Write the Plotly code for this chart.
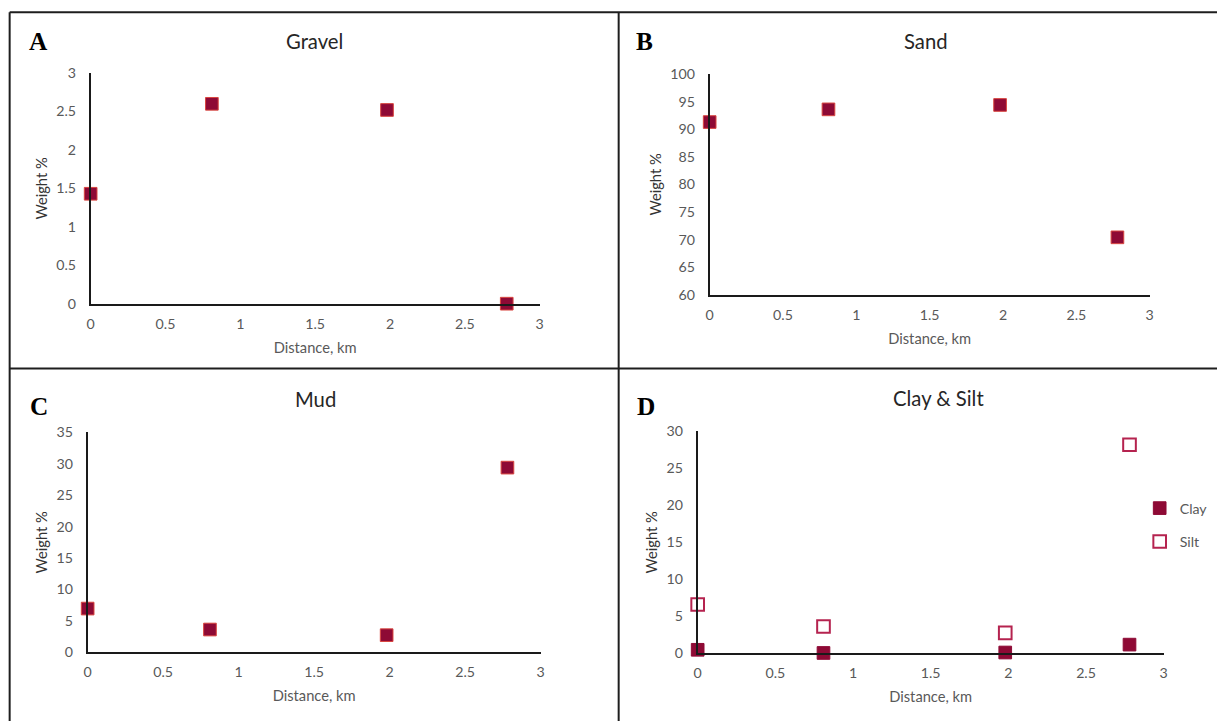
import plotly.graph_objects as go

# ---------------- data ----------------
distance_km = [0.0, 0.81, 1.98, 2.78]
gravel_pct = [1.43, 2.60, 2.52, 0.0]
sand_pct = [91.3, 93.6, 94.4, 70.4]
mud_pct = [6.94, 3.6, 2.7, 29.4]
clay_pct = [0.45, 0.02, 0.08, 1.15]
silt_pct = [6.58, 3.6, 2.75, 28.2]

x_ticks = [0, 0.5, 1, 1.5, 2, 2.5, 3]
x_tick_text = ["0", "0.5", "1", "1.5", "2", "2.5", "3"]
gravel_ticks = [0, 0.5, 1, 1.5, 2, 2.5, 3]
sand_ticks = [60, 65, 70, 75, 80, 85, 90, 95, 100]
mud_ticks = [0, 5, 10, 15, 20, 25, 30, 35]
clay_silt_ticks = [0, 5, 10, 15, 20, 25, 30]

panel_titles = ["Gravel", "Sand", "Mud", "Clay &amp; Silt"]
panel_letters = ["A", "B", "C", "D"]

# ---------------- layout helpers ----------------
PAGE_MARGIN = 8
SX, SY = 1217 / 1233, 721 / 737
W, H = 1233 - PAGE_MARGIN, 737 - PAGE_MARGIN
FS = 1 / SX  # font / size compensation
X_SHIFT, X_STRETCH = 4.6, 1.0065  # empirical horizontal correction


def px_x(p):
    p = (p + X_SHIFT) / X_STRETCH
    return (p / SX - PAGE_MARGIN) / W


def px_y(p):
    return 1 - (p / SY - PAGE_MARGIN) / H


FONT = "Lato, 'Open Sans', sans-serif"
TICK_COLOR = "#595959"
FILL = "#8e0a35"
EDGE = "#d9453f"

fig = go.Figure()

# panel plot areas (target pixel boxes: left, right, top, bottom)
boxes = {
    "1": (90, 539, 72, 303),
    "2": (709, 1149, 73, 294),
    "3": (87, 540, 432, 652),
    "4": (697, 1163, 431, 653),
}

series = {
    "1": [("Gravel", gravel_pct, "square")],
    "2": [("Sand", sand_pct, "square")],
    "3": [("Mud", mud_pct, "square")],
    "4": [("Clay", clay_pct, "square"), ("Silt", silt_pct, "square-open")],
}

y_ranges = {"1": [0, 3], "2": [60, 100], "3": [0, 35], "4": [0, 30]}
y_ticks = {"1": gravel_ticks, "2": sand_ticks, "3": mud_ticks, "4": clay_silt_ticks}

for k, box in boxes.items():
    l, r, t, b = box
    xa = "x" if k == "1" else "x" + k
    ya = "y" if k == "1" else "y" + k
    for name, vals, sym in series[k]:
        if sym == "square":
            marker = dict(symbol="square", size=12.5 * FS, color=FILL,
                          line=dict(color=EDGE if k != "4" else FILL, width=1))
        else:
            marker = dict(symbol="square-open", size=12.5 * FS, color="#b5234f",
                          line=dict(width=2))
        fig.add_trace(go.Scatter(
            x=distance_km, y=vals, mode="markers", name=name,
            marker=marker, xaxis=xa, yaxis=ya, cliponaxis=False,
            showlegend=(k == "4"), legendgroup=name,
        ))
    axis_common = dict(showgrid=False, zeroline=False, showline=True,
                       linecolor="#1a1a1a", linewidth=1.7, ticks="",
                       tickfont=dict(family=FONT, size=14 * FS, color=TICK_COLOR),
                       fixedrange=True)
    fig.layout["xaxis" + ("" if k == "1" else k)] = dict(
        domain=[px_x(l), px_x(r)], range=[0, 3], tickvals=x_ticks,
        ticktext=x_tick_text, anchor=ya, ticklabelstandoff=6,
        title=dict(text="Distance, km", standoff=12,
                   font=dict(family=FONT, size=14.5 * FS, color=TICK_COLOR)),
        **axis_common)
    fig.layout["yaxis" + ("" if k == "1" else k)] = dict(
        domain=[px_y(b), px_y(t)], range=y_ranges[k], tickvals=y_ticks[k],
        anchor=xa, ticklabelstandoff=10,
        title=dict(text="Weight %", standoff=5,
                   font=dict(family=FONT, size=14.5 * FS, color="#333333")),
        **axis_common)

# panel titles and letters
title_pos = [(314, 40), (925, 40), (315, 398), (938, 397)]
letter_pos = [(38, 40), (644, 40), (38, 405), (645, 405)]
annotations = []
for text, (x, y) in zip(panel_titles, title_pos):
    annotations.append(dict(text=text, x=px_x(x), y=px_y(y), xref="paper",
                            yref="paper", showarrow=False,
                            xanchor="center", yanchor="middle",
                            font=dict(family=FONT, size=20 * FS, color="#262626")))
for text, (x, y) in zip(panel_letters, letter_pos):
    annotations.append(dict(text="<b>" + text + "</b>", x=px_x(x), y=px_y(y),
                            xref="paper", yref="paper", showarrow=False,
                            xanchor="center", yanchor="middle",
                            font=dict(family="Liberation Serif, serif",
                                      size=25 * FS, color="#000000")))

# frame lines
line_style = dict(color="#1e1e1e", width=2)
shapes = [
    dict(type="line", xref="paper", yref="paper", x0=px_x(9), x1=1.0,
         y0=px_y(11), y1=px_y(11), line=line_style),
    dict(type="line", xref="paper", yref="paper", x0=px_x(9), x1=px_x(9),
         y0=px_y(11), y1=0, line=line_style),
    dict(type="line", xref="paper", yref="paper", x0=px_x(618), x1=px_x(618),
         y0=px_y(11), y1=0, line=line_style),
    dict(type="line", xref="paper", yref="paper", x0=px_x(9), x1=1.0,
         y0=px_y(368), y1=px_y(368), line=line_style),
]

fig.update_layout(
    width=W, height=H, margin=dict(l=0, r=0, t=0, b=0),
    paper_bgcolor="white", plot_bgcolor="white",
    annotations=annotations, shapes=shapes,
    showlegend=True,
    legend=dict(x=px_x(1139), y=px_y(492), xanchor="left", yanchor="top",
                font=dict(family=FONT, size=14 * FS, color=TICK_COLOR),
                tracegroupgap=12, itemwidth=30, bgcolor="rgba(0,0,0,0)"),
)

fig.write_html("out.html")
